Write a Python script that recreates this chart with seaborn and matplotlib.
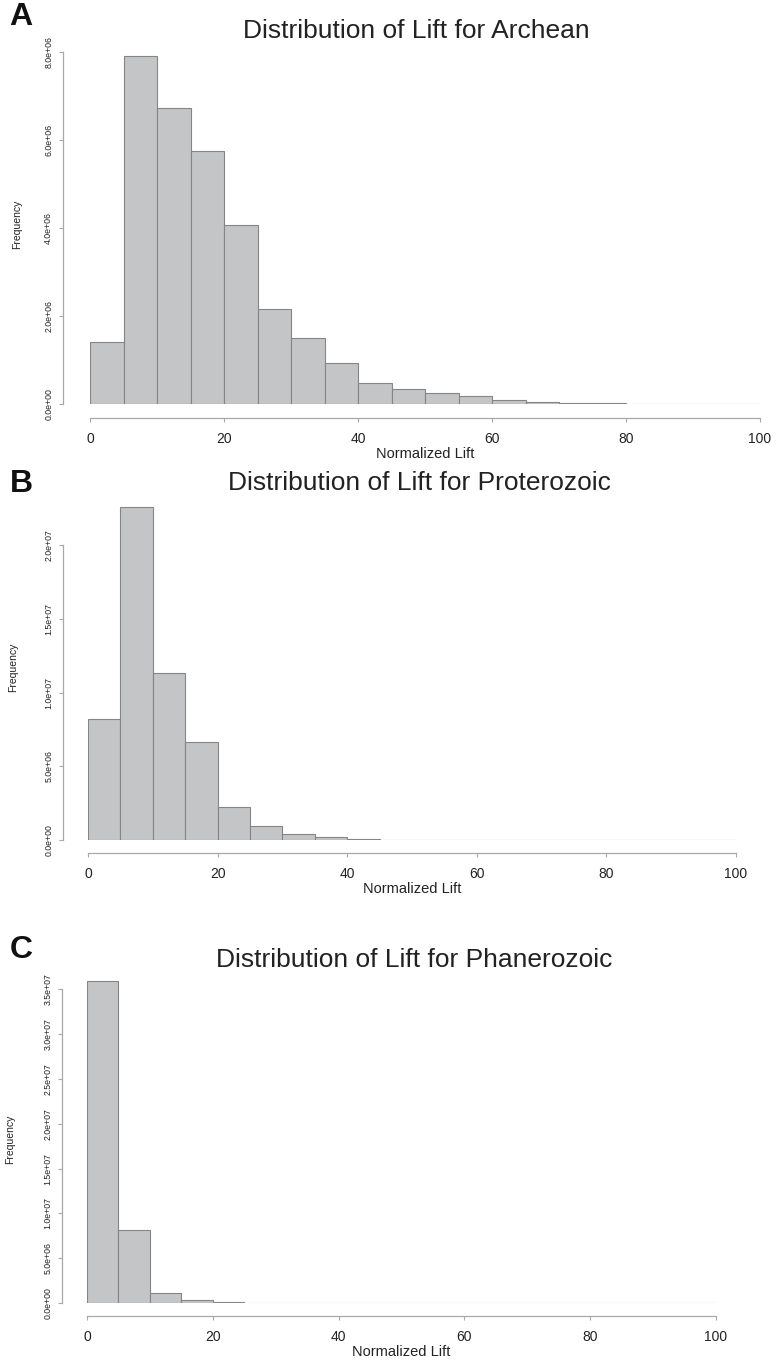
import matplotlib
matplotlib.use("Agg")
import matplotlib.pyplot as plt
from matplotlib.ticker import FuncFormatter
import seaborn as sns

# bins of width 5 from 0 to 100
edges = list(range(0, 105, 5))
mids = [e + 2.5 for e in edges[:-1]]

# counts
archean = [1.42e6, 7.92e6, 6.73e6, 5.74e6, 4.06e6, 2.17e6, 1.50e6, 0.94e6, 0.47e6, 0.33e6,
           0.25e6, 0.18e6, 0.09e6, 0.055e6, 0.025e6, 0.015e6, 0.008e6, 0.004e6, 0.002e6, 0.001e6]
proterozoic = [8.2e6, 22.6e6, 11.35e6, 6.62e6, 2.26e6, 0.97e6, 0.39e6, 0.18e6, 0.07e6, 0.03e6,
               0.01e6, 0.005e6, 0.002e6, 0.001e6, 0, 0, 0, 0, 0, 0]
phanerozoic = [35.9e6, 8.1e6, 1.1e6, 0.37e6, 0.15e6, 0.05e6, 0.02e6, 0.01e6, 0.004e6, 0.002e6,
               0, 0, 0, 0, 0, 0, 0, 0, 0, 0]

titles = ["Distribution of Lift for Archean",
          "Distribution of Lift for Proterozoic",
          "Distribution of Lift for Phanerozoic"]
letters = ["A", "B", "C"]
xticks = [0, 20, 40, 60, 80, 100]
yticks_a = [0, 2e6, 4e6, 6e6, 8e6]
yticks_b = [0, 5e6, 10e6, 15e6, 20e6]
yticks_c = [0, 5e6, 10e6, 15e6, 20e6, 25e6, 30e6, 35e6]

sns.set_style("ticks")
plt.rcParams['font.family'] = ['Liberation Sans', 'DejaVu Sans']

W, H = 776, 1371
fig = plt.figure(figsize=(W / 100, H / 100), dpi=100)

# pixel layout of each panel: x of 0, x of 100, axes top, baseline, spine x, ylim top
panels = [
    dict(x0=90, x1=760, top=45, base=404, spine_x=63, axis_y=418, ymax=8.16e6,
         title_xy=(416, 31), title_fs=19, letter_y=17, ylab_x=17),
    dict(x0=88, x1=736, top=495, base=840, spine_x=63, axis_y=853, ymax=23.4e6,
         title_xy=(419, 483), title_fs=19, letter_y=484, ylab_x=13),
    dict(x0=87, x1=716, top=975, base=1303, spine_x=62, axis_y=1316, ymax=36.6e6,
         title_xy=(414, 960), title_fs=19, letter_y=950, ylab_x=10),
]
series = [archean, proterozoic, phanerozoic]
yticks_all = [yticks_a, yticks_b, yticks_c]

bar_fill = "#c4c5c7"
bar_edge = "#858585"
axis_col = "#a8a8a8"
text_col = "#222222"

for p, counts, yt, title, letter in zip(panels, series, yticks_all, titles, letters):
    ax = fig.add_axes([p["x0"] / W, 1 - p["base"] / H,
                       (p["x1"] - p["x0"]) / W, (p["base"] - p["top"]) / H])
    sns.histplot(x=mids, weights=counts, bins=edges, stat="count", ax=ax,
                 color=bar_fill, edgecolor=bar_edge, linewidth=0.8, alpha=1)
    ax.set_xlim(0, 100)
    ax.set_ylim(0, p["ymax"])

    for s in ["top", "right"]:
        ax.spines[s].set_visible(False)
    ax.spines["left"].set_position(("outward", (p["x0"] - p["spine_x"]) * 0.72))
    ax.spines["bottom"].set_position(("outward", (p["axis_y"] - p["base"]) * 0.72))
    ax.spines["left"].set_bounds(0, yt[-1])
    ax.spines["bottom"].set_bounds(0, 100)
    for s in ["left", "bottom"]:
        ax.spines[s].set_color(axis_col)
        ax.spines[s].set_linewidth(0.9)

    ax.set_xticks(xticks)
    ax.set_yticks(yt)
    ax.yaxis.set_major_formatter(FuncFormatter(lambda v, pos: "%.1e" % v))
    ax.tick_params(axis="both", colors=axis_col, length=3, width=0.8)
    ax.tick_params(axis="x", labelsize=10, labelcolor=text_col, pad=7)
    ax.tick_params(axis="y", labelsize=6.3, labelcolor=text_col, pad=4)
    for lab in ax.get_yticklabels():
        lab.set_rotation(90)
        lab.set_va("center")

    ax.set_xlabel("Normalized Lift", fontsize=10.5, color=text_col, labelpad=1)
    ax.set_ylabel("")
    fig.text(p["ylab_x"] / W, 1 - (p["top"] + p["base"]) / 2 / H, "Frequency",
             rotation=90, ha="center", va="center", fontsize=7.5, color=text_col)

    fig.text(p["title_xy"][0] / W, 1 - p["title_xy"][1] / H, title,
             ha="center", va="center", fontsize=p["title_fs"], color=text_col)
    fig.text(21 / W, 1 - p["letter_y"] / H, letter, ha="center", va="center",
             fontsize=23, fontweight="bold", color="#111111")

fig.savefig("out.png", dpi=100)
